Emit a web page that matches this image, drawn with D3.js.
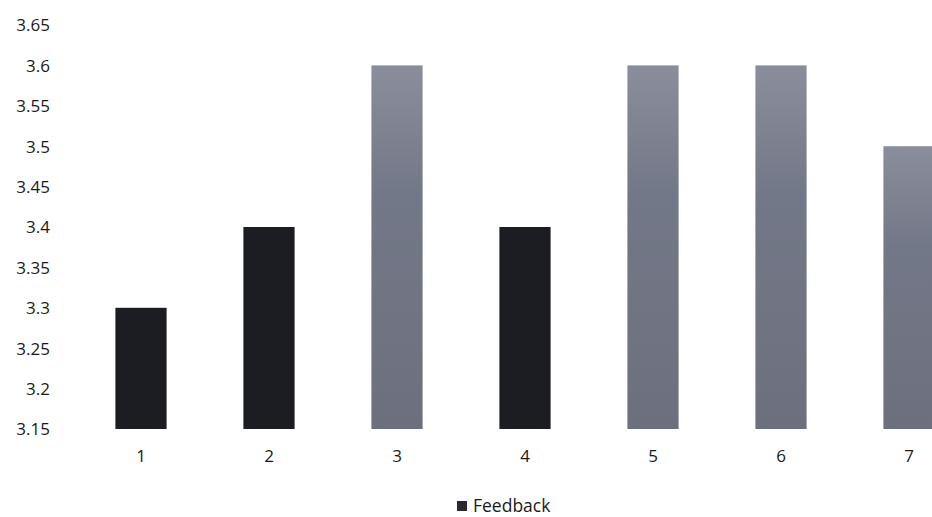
<!DOCTYPE html>
<html>
<head>
<meta charset="utf-8">
<script src="https://cdn.jsdelivr.net/npm/d3@7"></script>
<style>
  body { margin: 0; background: #fff; }
  text { font-family: "Open Sans", "Noto Sans", sans-serif; fill: #1a1a1a; }
</style>
</head>
<body>
<div id="chart"></div>
<script>
const categories = ['1', '2', '3', '4', '5', '6', '7'];
const feedback = [3.3, 3.4, 3.6, 3.4, 3.6, 3.6, 3.5];
// scan shows bars 1, 2, 4 much darker than the rest
const darkBars = ['1', '2', '4'];
const yTicks = [3.15, 3.2, 3.25, 3.3, 3.35, 3.4, 3.45, 3.5, 3.55, 3.6, 3.65];

const WIDTH = 932;
const HEIGHT = 517;

const svg = d3.select('#chart').append('svg')
  .attr('width', WIDTH)
  .attr('height', HEIGHT);

const defs = svg.append('defs');
const grad = defs.append('linearGradient')
  .attr('id', 'grayGrad')
  .attr('x1', 0).attr('y1', 0).attr('x2', 0).attr('y2', 1);
grad.append('stop').attr('offset', '0%').attr('stop-color', '#8a8e9c');
grad.append('stop').attr('offset', '35%').attr('stop-color', '#737888');
grad.append('stop').attr('offset', '100%').attr('stop-color', '#6c707e');

// the plot runs off the right edge in the photo, hence the range past WIDTH
const x = d3.scaleBand()
  .domain(categories)
  .range([77, 973])
  .paddingInner(0.6)
  .paddingOuter(0.3);

const y = d3.scaleLinear()
  .domain([3.15, 3.65])
  .range([429, 25]);

const yAxis = svg.append('g')
  .attr('transform', 'translate(50,0)')
  .call(d3.axisLeft(y).tickValues(yTicks).tickSize(0).tickPadding(0)
    .tickFormat(d => String(+d.toFixed(2))));
yAxis.select('.domain').remove();
yAxis.selectAll('text')
  .style('font-size', '17px')
  .attr('dy', '0.35em');

const xAxis = svg.append('g')
  .attr('transform', 'translate(0,450)')
  .call(d3.axisBottom(x).tickSize(0).tickPadding(0));
xAxis.select('.domain').remove();
xAxis.selectAll('text')
  .style('font-size', '17px');

svg.append('g')
  .selectAll('rect')
  .data(categories)
  .join('rect')
  .attr('x', d => x(d))
  .attr('width', x.bandwidth())
  .attr('y', (d, i) => y(feedback[i]))
  .attr('height', (d, i) => y(3.15) - y(feedback[i]))
  .attr('fill', d => darkBars.includes(d) ? '#1c1c23' : 'url(#grayGrad)');

const legend = svg.append('g').attr('transform', 'translate(457,506)');
legend.append('rect')
  .attr('x', 0).attr('y', -5)
  .attr('width', 10).attr('height', 10)
  .attr('fill', '#2a2a30');
legend.append('text')
  .attr('x', 16)
  .attr('dy', '0.35em')
  .style('font-size', '17.5px')
  .text('Feedback');
</script>
</body>
</html>
